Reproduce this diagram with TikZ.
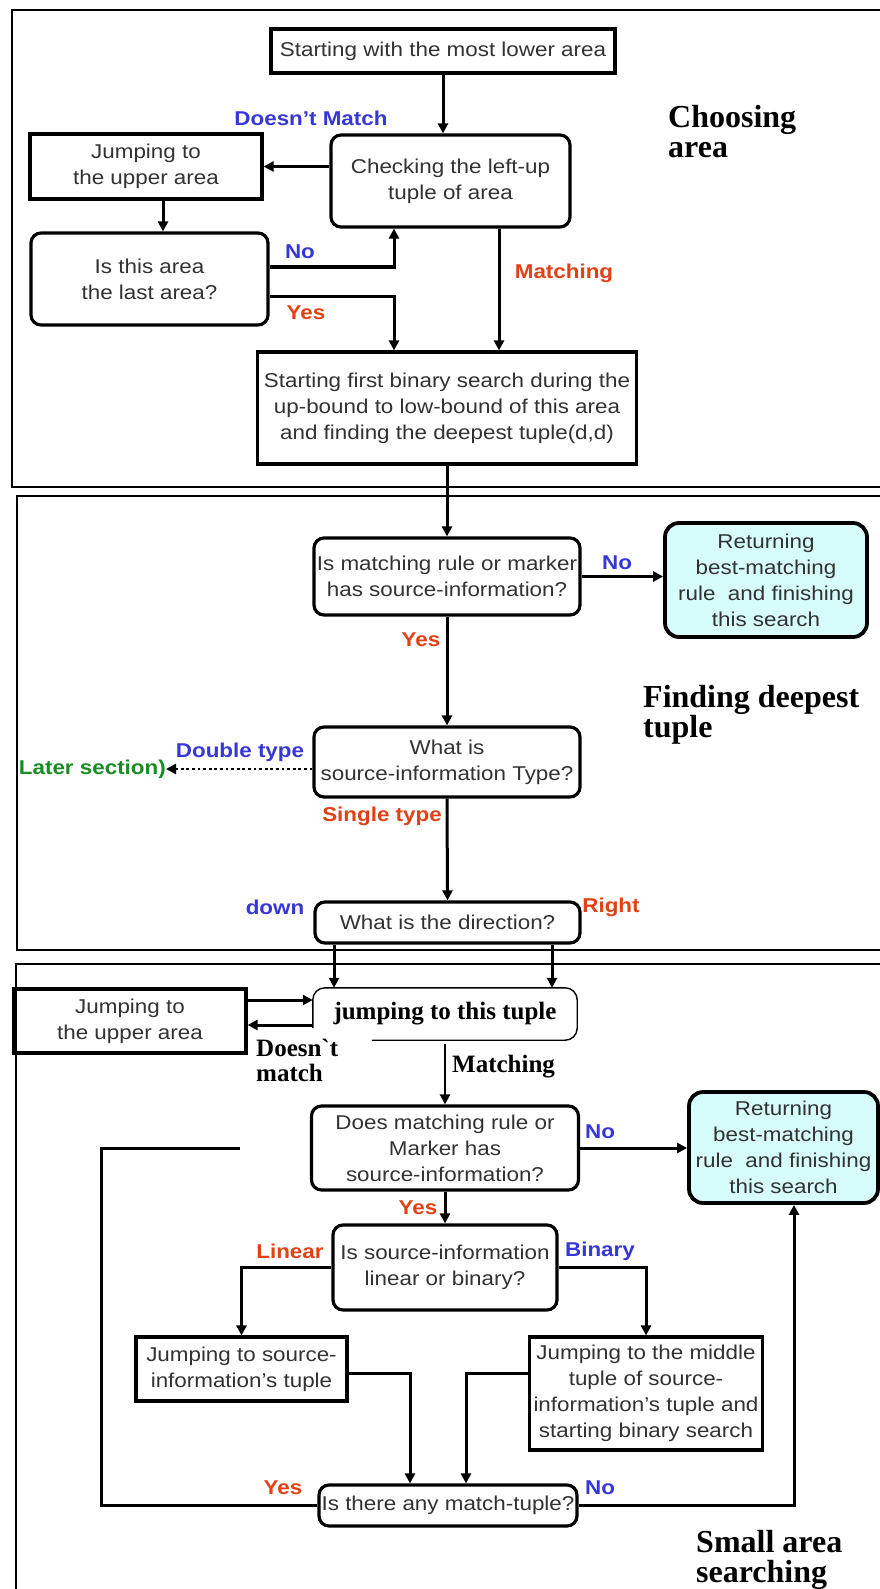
\documentclass[tikz,border=0pt]{standalone}
\usepackage{fontspec}
\setmainfont{Liberation Serif}
\newfontfamily\boxfont[FakeStretch=1.12]{Liberation Sans}
\newfontfamily\serifraw{Liberation Serif}
\usetikzlibrary{arrows.meta,calc}

\definecolor{lblue}{RGB}{55,55,215}
\definecolor{lred}{RGB}{225,65,20}
\definecolor{lgreen}{RGB}{25,140,35}
\definecolor{boxtext}{RGB}{50,50,50}
\definecolor{retfill}{RGB}{215,252,252}

\tikzset{
  box/.style={draw=black, line width=3.2pt, inner sep=0pt, align=center,
    font=\boxfont\fontsize{20}{26}\selectfont, text=boxtext},
  sharpbox/.style={box},
  roundbox/.style={box, rounded corners=10pt},
  retbox/.style={box, rounded corners=14pt, line width=3.8pt, fill=retfill},
  arr/.style={line width=3pt, -{Triangle[length=10pt,width=10pt]}},
  plainline/.style={line width=3pt},
  lab/.style={font=\boxfont\bfseries\fontsize{20}{24}\selectfont, inner sep=0pt},
  serifbold/.style={font=\serifraw\bfseries\fontsize{25}{25}\selectfont, inner sep=0pt, text=black},
  title/.style={font=\bfseries\fontsize{32}{30}\selectfont, anchor=base west, inner sep=0pt},
  frame/.style={line width=1.6pt},
}

\begin{document}
\begin{tikzpicture}[x=1pt, y=-1pt]
\fill[white] (0,0) rectangle (880,1589);
\useasboundingbox (0,0) rectangle (880,1589);

% section frames
\draw[frame] (880,10) -- (12,10) -- (12,487) -- (880,487);
\draw[frame] (880,496) -- (17,496) -- (17,950) -- (880,950);
\draw[frame] (880,964) -- (16,964) -- (16,1589);

% section titles
\node[title] (ttlAa) at (668,128) {Choosing};
\node[title] (ttlAb) at (668,158) {area};
\node[title] (ttlBa) at (643,707) {Finding deepest};
\node[title] (ttlBb) at (643,737) {tuple};
\node[title] (ttlCa) at (696,1552) {Small area};
\node[title] (ttlCb) at (696,1582) {searching};

% choosing area
\node[sharpbox, minimum width=344pt, minimum height=44pt] (start) at (443,51) {Starting with the most lower area};
\node[roundbox, minimum width=239pt, minimum height=92pt] (check) at (450.5,181) {Checking the left-up\\tuple of area};
\node[sharpbox, minimum width=232pt, minimum height=65pt] (jumpA) at (146,166.5) {Jumping to\\the upper area};
\node[roundbox, minimum width=237pt, minimum height=92pt] (last) at (149.5,279) {Is this area\\the last area?};
\node[sharpbox, minimum width=379pt, minimum height=112pt] (bsearch) at (447,408) {Starting first binary search during the\\up-bound to low-bound of this area\\and finding the deepest tuple(d,d)};

% finding deepest tuple
\node[roundbox, minimum width=266pt, minimum height=77pt] (hasinfo) at (447,576.5) {Is matching rule or marker\\has source-information?};
\node[retbox, minimum width=202pt, minimum height=114pt] (retA) at (766,580) {Returning\\best-matching\\rule\ \ and finishing\\this search};
\node[roundbox, minimum width=266pt, minimum height=70pt] (type) at (447,762) {What is\\source-information Type?};
\node[roundbox, minimum width=265pt, minimum height=41pt] (dir) at (447.5,922.5) {What is the direction?};

% small area searching
\node[serifbold, minimum width=264pt, minimum height=52pt] (tuple) at (445,1014) {jumping to this tuple};
\draw[line width=1.4pt, rounded corners=12pt]
  ($(tuple.south west)+(59,0)$) -- (tuple.south east) -- (tuple.north east)
  -- (tuple.north west) -- ($(tuple.south west)+(0,-12)$);
\node[sharpbox, minimum width=232pt, minimum height=64pt] (jumpB) at (130,1021) {Jumping to\\the upper area};
\node[roundbox, minimum width=267pt, minimum height=84pt] (does) at (445,1148) {Does matching rule or\\Marker has\\source-information?};
\node[retbox, minimum width=189pt, minimum height=111pt] (retB) at (783.5,1147.5) {Returning\\best-matching\\rule\ \ and finishing\\this search};
\node[roundbox, minimum width=224pt, minimum height=85pt] (linbin) at (445,1267.5) {Is source-information\\linear or binary?};
\node[sharpbox, minimum width=211pt, minimum height=64pt] (jlin) at (241.5,1369) {Jumping to source-\\information’s tuple};
\node[sharpbox, minimum width=233pt, minimum height=113pt] (jbin) at (646,1393.5) {Jumping to the middle\\tuple of source-\\information’s tuple and\\starting binary search};
\node[roundbox, minimum width=258pt, minimum height=41pt] (any) at (448,1505.5) {Is there any match-tuple?};

% connectors: choosing area
\draw[arr] (start.south) -- (start.south |- check.north);
\draw[arr] (check.west |- jumpA.east) -- (jumpA.east);
\draw[arr] ([xshift=17pt]jumpA.south) -- ([xshift=17pt]jumpA.south |- last.north);
\draw[arr] ([yshift=12pt]last.east) -| ([xshift=-56.5pt]check.south);
\draw[arr] ([yshift=-17pt]last.east) -| ([xshift=-53pt]bsearch.north);
\draw[arr] ([xshift=48.5pt]check.south) -- ([xshift=48.5pt]check.south |- bsearch.north);

% connectors: finding deepest tuple
\draw[arr] (bsearch.south) -- (hasinfo.north);
\draw[arr] (hasinfo.east) -- (hasinfo.east -| retA.west);
\draw[arr] (hasinfo.south) -- (type.north);
\node[lab, text=lgreen, anchor=east] (later) at (166,769) {Later section)};
\draw[line width=2.8pt, dash pattern=on 2.8pt off 2.8pt, -{Triangle[length=10pt,width=10pt]}]
  ([yshift=-7pt]type.west) -- (later.east);
\draw[arr] (type.south) -- (dir.north);

% connectors: small area searching
\draw[arr] ([xshift=-113.5pt]dir.south) -- ([xshift=-113.5pt]dir.south |- tuple.north);
\draw[arr] ([xshift=104.5pt]dir.south) -- ([xshift=104.5pt]dir.south |- tuple.north);
\draw[arr] ([yshift=21pt]jumpB.east) -- ([yshift=21pt]jumpB.east -| tuple.west);
\draw[arr] ([yshift=-4pt]jumpB.east -| tuple.west) -- ([yshift=-4pt]jumpB.east);
\draw[arr, line width=2.4pt] ([yshift=-4pt]tuple.south) -- (does.north);
\draw[arr] (does.east) -- (does.east -| retB.west);
\draw[arr] (does.south) -- (linbin.north);
\draw[arr] (linbin.west) -| (jlin.north);
\draw[arr] (linbin.east) -| (jbin.north);
\draw[arr] ([yshift=-4pt]jlin.east) -| ([xshift=-38pt]any.north);
\draw[arr] ([yshift=20.5pt]jbin.west) -| ([xshift=18pt]any.north);
\draw[arr] (any.east) -| ([xshift=10.5pt]retB.south);
\coordinate (loopc) at (101,1148);
\coordinate (loopend) at (240,1148);
\draw[plainline] (any.west) -| (loopc) -- (loopend);

% branch labels
\node[lab, text=lblue] (dmA) at (311,118) {Doesn’t Match};
\node[lab, text=lblue] (noA) at (300,252) {No};
\node[lab, text=lred] (yesA) at (306,313) {Yes};
\node[lab, text=lred] (matchA) at (564,273) {Matching};
\node[lab, text=lblue] (noB) at (617,563) {No};
\node[lab, text=lred] (yesB) at (421,640) {Yes};
\node[lab, text=lblue] (dbl) at (240,752) {Double type};
\node[lab, text=lred] (single) at (382,816) {Single type};
\node[lab, text=lblue] (down) at (275,907) {down};
\node[lab, text=lred] (right) at (611,907) {Right};
\node[serifbold, anchor=west, align=left] (dmB) at (256,1060) {Doesn`t\\match};
\node[serifbold, anchor=west] (matchB) at (452,1067) {Matching};
\node[lab, text=lblue] (noC) at (600,1132) {No};
\node[lab, text=lred] (yesC) at (418,1208) {Yes};
\node[lab, text=lred] (lin) at (290,1251) {Linear};
\node[lab, text=lblue] (bin) at (600,1251) {Binary};
\node[lab, text=lred] (yesD) at (283,1488) {Yes};
\node[lab, text=lblue] (noD) at (600,1488) {No};
\end{tikzpicture}
\end{document}
